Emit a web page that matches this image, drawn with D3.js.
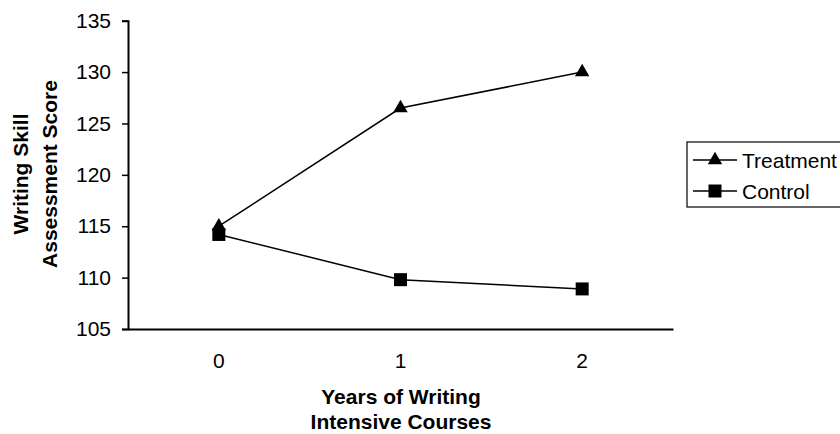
<!DOCTYPE html>
<html><head><meta charset="utf-8">
<script src="https://cdn.jsdelivr.net/npm/d3@7"></script>
<style>body{margin:0;background:#fff}svg{display:block}</style>
</head><body><svg id="c" width="840" height="434"></svg>
<script>
const categories = ["0","1","2"];
const treatment = [115, 126.5, 130];
const control = [114.2, 109.8, 108.9];
const yTicks = [105,110,115,120,125,130,135];
const seriesNames = ["Treatment","Control"];

(function(){
const svg = d3.select("#c");
const font = "Liberation Sans, Arial, sans-serif";
const mLeft = 128, mRight = 673, mTop = 20.7, mBottom = 329;
const x = d3.scaleBand().domain(categories).range([mLeft, mRight]);
const y = d3.scaleLinear().domain([105,135]).range([mBottom, mTop]);

const yAxis = svg.append("g").attr("transform",`translate(${mLeft},0)`)
  .call(d3.axisLeft(y).tickValues(yTicks).tickSize(6).tickPadding(11).tickFormat(d3.format("d")));
yAxis.select(".domain").attr("stroke","#000").attr("stroke-width",2);
yAxis.selectAll(".tick line").attr("stroke","#000").attr("stroke-width",1.5);
yAxis.selectAll("text").attr("font-family",font).attr("font-size",21).attr("fill","#000");

const xAxis = svg.append("g").attr("transform",`translate(0,${mBottom})`)
  .call(d3.axisBottom(x).tickSize(0).tickPadding(24));
xAxis.select(".domain").attr("stroke","#000").attr("stroke-width",2);
xAxis.selectAll("text").attr("font-family",font).attr("font-size",21).attr("fill","#000");

const cx = d => x(d) + x.bandwidth()/2;
const line = d3.line().x((d,i)=>cx(categories[i])).y(d=>y(d));
const tri = d3.symbol().type(d3.symbolTriangle).size(90);
const sq = d3.symbol().type(d3.symbolSquare).size(169);

[[control, sq],[treatment, tri]].forEach(([vals, sym]) => {
  svg.append("path").attr("d", line(vals)).attr("fill","none").attr("stroke","#000").attr("stroke-width",1.5);
  svg.selectAll(null).data(vals).enter().append("path")
    .attr("d", sym)
    .attr("transform",(d,i)=>`translate(${cx(categories[i])},${y(d)})`)
    .attr("fill","#000");
});

const lg = svg.append("g");
lg.append("rect").attr("x",687).attr("y",142).attr("width",170).attr("height",65)
  .attr("fill","#fff").attr("stroke","#000").attr("stroke-width",1.2);
[[seriesNames[0], tri, 160],[seriesNames[1], sq, 191]].forEach(([name, sym, ly]) => {
  lg.append("line").attr("x1",693).attr("x2",737).attr("y1",ly).attr("y2",ly).attr("stroke","#000").attr("stroke-width",1.5);
  lg.append("path").attr("d", sym).attr("transform",`translate(715,${ly})`).attr("fill","#000");
  lg.append("text").attr("x",742).attr("y",ly+7.5).attr("font-family",font).attr("font-size",21).text(name);
});

const yt = svg.append("text").attr("transform","translate(0,174) rotate(-90)")
  .attr("text-anchor","middle").attr("font-family",font).attr("font-size",21).attr("font-weight","bold");
yt.append("tspan").attr("x",0).attr("y",28).text("Writing Skill");
yt.append("tspan").attr("x",0).attr("y",57).text("Assessment Score");

const xt = svg.append("text").attr("text-anchor","middle").attr("font-family",font).attr("font-size",21).attr("font-weight","bold");
xt.append("tspan").attr("x",401).attr("y",404).text("Years of Writing");
xt.append("tspan").attr("x",401).attr("y",429).text("Intensive Courses");
})();
</script></body></html>
